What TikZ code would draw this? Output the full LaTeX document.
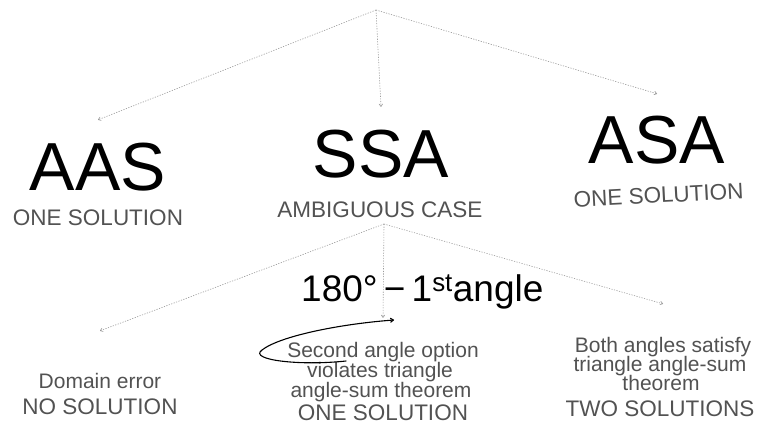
\documentclass[tikz,border=0pt]{standalone}
\usepackage{fontspec}
\setmainfont{Liberation Sans}
\usetikzlibrary{arrows.meta}
\begin{document}
\begin{tikzpicture}[x=1pt,y=-1pt,
  big/.style={font=\fontsize{68}{68}\selectfont, text=black, inner sep=0pt,
    text height=50pt, text depth=0pt, anchor=base},
  caps/.style={font=\fontsize{22.5}{24}\selectfont, text=black!68, inner sep=0pt,
    text height=16pt, text depth=0pt, anchor=base},
  lower/.style={font=\fontsize{21}{22}\selectfont, text=black!68, inner sep=0pt,
    text height=15pt, text depth=0pt, anchor=base},
  conn/.style={draw=black!40, line width=0.6pt, dash pattern=on 1.2pt off 1.4pt,
    -{To[length=3pt,width=4pt]}},
  note/.style={font=\fontsize{37}{37}\selectfont, text=black, inner sep=0pt, anchor=base west},
  lasso/.style={draw=black, line width=1.1pt, line cap=round,
    -{To[length=4pt,width=5pt]}}
]
\useasboundingbox (0,0) rectangle (775,433);

% top level: the three cases
\coordinate (top) at (376,10);
\node[big] (aas) at (98,190) {AAS};
\node[big] (ssa) at (381,177) {SSA};
\node[big] (asa) at (657,163) {ASA};

\node[caps] (aasSol) at (98,225) {ONE SOLUTION};
\node[caps] (ssaCase) at (380,217) {AMBIGUOUS CASE};
\node[caps, rotate=3] (asaSol) at (659,203) {ONE SOLUTION};

\draw[conn] (top) -- ([yshift=20pt]aas.north);
\draw[conn] (top) -- ([yshift=20pt]ssa.north);
\draw[conn] (top) -- ([yshift=19pt]asa.north);

% SSA splits into three outcomes
\coordinate (split) at (384,224);

\node[lower] (dom) at (100,388) {Domain error};
\node[caps] (domSol) at (100,414) {NO SOLUTION};

\node[lower] (sec1) at (383,357) {Second angle option};
\node[lower] (sec2) at (380,377) {violates triangle};
\node[lower] (sec3) at (381,397) {angle-sum theorem};
\node[caps] (secSol) at (383,420) {ONE SOLUTION};

\node[lower] (both1) at (663,352) {Both angles satisfy};
\node[lower] (both2) at (660,371) {triangle angle-sum};
\node[lower] (both3) at (661,390) {theorem};
\node[caps] (bothSol) at (660,416) {TWO SOLUTIONS};

\draw[conn] (split) -- ([yshift=42pt]dom.north);
\draw[conn] (split) -- ([yshift=24pt]sec1.north);
\draw[conn] (split) -- ([yshift=33pt]both1.north);

% handwritten note on the second angle
\node[note] (alt) at (301,301) {180°\,−\,1\textsuperscript{st}angle};
\coordinate (loopStart) at (346,361);
\coordinate (loopTip) at (394,320);
\draw[lasso] (loopStart) .. controls (300,366) and (248,360) .. (262,350)
  .. controls (280,336) and (340,324) .. (loopTip);
\end{tikzpicture}
\end{document}
